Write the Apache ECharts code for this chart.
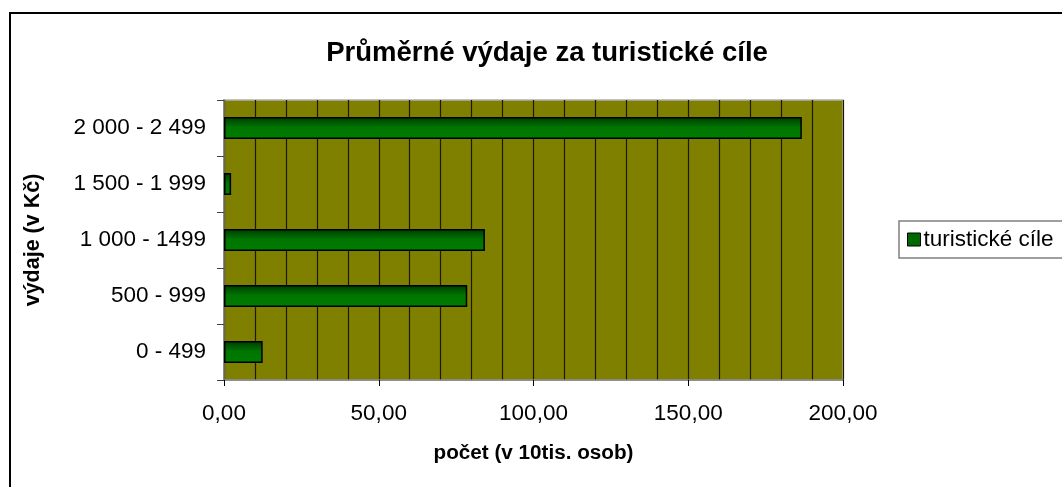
<!DOCTYPE html>
<html>
<head>
<meta charset="utf-8">
<script src="https://cdn.jsdelivr.net/npm/echarts@6/dist/echarts.min.js"></script>
<style>
html,body{margin:0;padding:0;background:#fff;}
#c{width:1062px;height:487px;}
</style>
</head>
<body>
<div id="c"></div>
<script>
const title = 'Průměrné výdaje za turistické cíle';
const categories = ['0 - 499', '500 - 999', '1 000 - 1499', '1 500 - 1 999', '2 000 - 2 499'];
const values = [12.5, 78.6, 84.3, 2.3, 186.7];
const seriesName = 'turistické cíle';
const xName = 'počet (v 10tis. osob)';
const yName = 'výdaje (v Kč)';

const FONT = 'Liberation Sans, Arial, sans-serif';
const chart = echarts.init(document.getElementById('c'));
chart.setOption({
  animation: false,
  backgroundColor: '#fff',
  textStyle: {fontFamily: FONT},
  title: {
    text: title, left: 542, top: 34, textAlign: 'center',
    textStyle: {fontSize: 27.5, fontWeight: 'bold', color: '#000', fontFamily: FONT}
  },
  graphic: [{
    type: 'rect', z: 100, silent: true,
    shape: {x: 10, y: 13, width: 1100, height: 600},
    style: {fill: 'none', stroke: '#000', lineWidth: 2}
  }],
  legend: {
    left: 899, top: 221, orient: 'vertical',
    padding: [7, 60, 7, 8],
    borderColor: '#808080', borderWidth: 1.5,
    itemWidth: 13, itemHeight: 13, itemGap: 5,
    textStyle: {fontSize: 22.5, color: '#000', fontFamily: FONT, padding: [0, 0, 0, -2]},
    data: [{name: seriesName, icon: 'rect', itemStyle: {color: '#006800', borderColor: '#000', borderWidth: 1}}]
  },
  grid: {
    left: 224, right: 219, top: 100, bottom: 107,
    show: true, backgroundColor: '#808000', borderColor: '#b0b0b0', borderWidth: 1.5
  },
  xAxis: {
    type: 'value', min: 0, max: 200, interval: 50,
    name: xName, nameLocation: 'middle', nameGap: 63,
    nameTextStyle: {fontSize: 20.7, fontWeight: 'bold', color: '#000', fontFamily: FONT},
    axisLine: {show: true, lineStyle: {color: '#808080', width: 1.5}},
    axisTick: {show: true, length: 6, lineStyle: {color: '#000'}},
    axisLabel: {
      margin: 22, fontSize: 22.5, color: '#000', fontFamily: FONT,
      formatter: v => v.toFixed(2).replace('.', ',')
    },
    splitLine: {show: true, lineStyle: {color: '#1a1a00', width: 1.2}},
    minorTick: {show: false, splitNumber: 5},
    minorSplitLine: {show: true, lineStyle: {color: '#1a1a00', width: 1.2}}
  },
  yAxis: {
    type: 'category', data: categories,
    name: yName, nameLocation: 'middle', nameGap: 180, nameRotate: 90,
    nameTextStyle: {fontSize: 21.5, fontWeight: 'bold', color: '#000', fontFamily: FONT},
    axisLine: {show: true, lineStyle: {color: '#808080', width: 1.5}},
    axisTick: {show: true, length: 7, lineStyle: {color: '#404040'}},
    axisLabel: {margin: 18, fontSize: 22.5, color: '#000', fontFamily: FONT},
    splitLine: {show: false}
  },
  series: [{
    name: seriesName, type: 'bar', data: values, barWidth: 22,
    itemStyle: {
      borderColor: '#000', borderWidth: 1.5,
      color: new echarts.graphic.LinearGradient(0, 0, 0, 1, [
        {offset: 0, color: '#003800'},
        {offset: 0.45, color: '#007400'},
        {offset: 1, color: '#007c00'}
      ])
    }
  }]
});
</script>
</body>
</html>
